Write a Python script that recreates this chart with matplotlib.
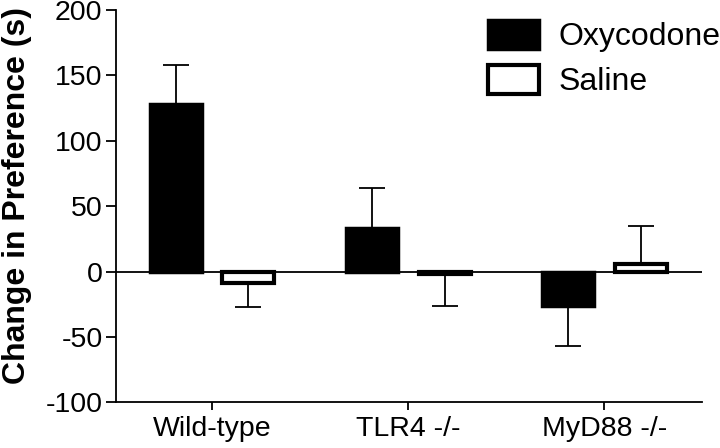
import numpy as np
import matplotlib
matplotlib.use("Agg")
import matplotlib.pyplot as plt

plt.rcParams['font.family'] = ['Liberation Sans', 'DejaVu Sans']
plt.rcParams['axes.unicode_minus'] = False

groups = ["Wild-type", "TLR4 -/-", "MyD88 -/-"]
oxy = np.array([128, 33, -26])
oxy_err = np.array([30, 31, 31])
sal = np.array([-9, -2, 6])
sal_err = np.array([18, 24, 29])

x = np.arange(len(groups))
w = 0.265
off = 0.186

fig = plt.figure(figsize=(7.2, 4.48), dpi=100)
ax = fig.add_axes([0.1607, 0.102, 0.8139, 0.8757])

# error bars only point away from zero
def one_sided(v, e):
    lo = np.where(v < 0, e, 0)
    hi = np.where(v >= 0, e, 0)
    return [lo, hi]

ax.bar(x - off, oxy, w, color='black', edgecolor='black', linewidth=2.5,
       label='Oxycodone', zorder=2)
ax.bar(x + off, sal, w, color='white', edgecolor='black', linewidth=3,
       label='Saline', zorder=2)
ax.errorbar(x - off, oxy, yerr=one_sided(oxy, oxy_err), fmt='none',
            ecolor='black', elinewidth=1.3, capsize=9.5, capthick=1.3, zorder=1)
ax.errorbar(x + off, sal, yerr=one_sided(sal, sal_err), fmt='none',
            ecolor='black', elinewidth=1.3, capsize=9.5, capthick=1.3, zorder=1)
ax.axhline(0, color='black', linewidth=1.3, zorder=3)

ax.set_xlim(-0.491, 2.497)
ax.set_ylim(-100, 200)
ax.set_yticks(np.arange(-100, 201, 50))
ax.set_xticks(x)
ax.set_xticklabels(groups)
ax.tick_params(axis='both', labelsize=20.5, width=1.3, direction='out')
ax.tick_params(axis='y', length=7.5, pad=2)
ax.tick_params(axis='x', length=6, pad=4)
for s in ['top', 'right']:
    ax.spines[s].set_visible(False)
for s in ['left', 'bottom']:
    ax.spines[s].set_linewidth(1.3)
ax.set_ylabel("Change in Preference (s)", fontsize=23, fontweight='bold')
ax.yaxis.set_label_coords(-0.143, 0.528)

ax.legend(loc='upper left', bbox_to_anchor=(488 / 720, 1 - 20 / 448),
          bbox_transform=fig.transFigure, frameon=False, fontsize=23,
          handlelength=1.6, handleheight=1.0, handletextpad=0.6,
          labelspacing=0.4, borderpad=0, borderaxespad=0)

fig.savefig("out.png", dpi=100)
